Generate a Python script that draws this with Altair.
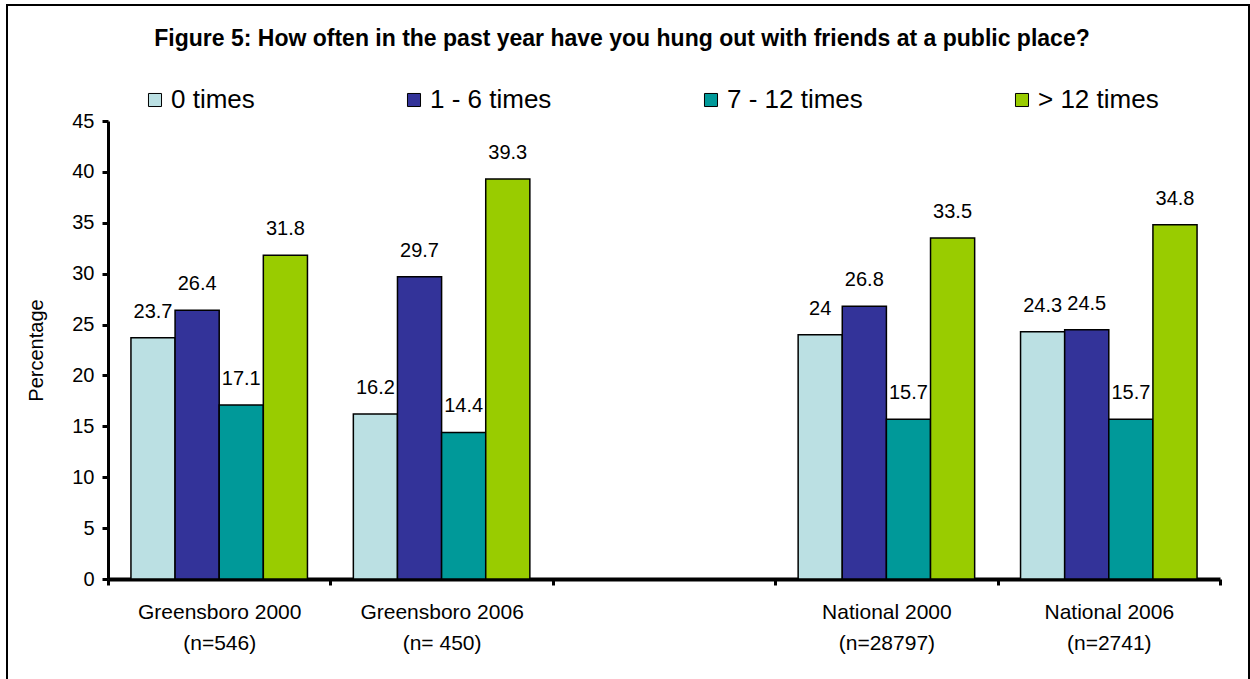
import altair as alt
import pandas as pd

# Category slots along the x axis (the blank slot separates local from national results)
groups = [
    "Greensboro 2000|(n=546)",
    "Greensboro 2006|(n= 450)",
    " ",
    "National 2000|(n=28797)",
    "National 2006|(n=2741)",
]
series = ["0 times", "1 - 6 times", "7 - 12 times", "> 12 times"]
colors = ["#BBE0E3", "#333399", "#009999", "#99CC00"]

greensboro_2000 = [23.7, 26.4, 17.1, 31.8]
greensboro_2006 = [16.2, 29.7, 14.4, 39.3]
national_2000 = [24, 26.8, 15.7, 33.5]
national_2006 = [24.3, 24.5, 15.7, 34.8]

y_ticks = [0, 5, 10, 15, 20, 25, 30, 35, 40, 45]

rows = []
for grp, vals in zip(
    [groups[0], groups[1], groups[3], groups[4]],
    [greensboro_2000, greensboro_2006, national_2000, national_2006],
):
    for s, v in zip(series, vals):
        rows.append({"group": grp, "series": s, "value": v, "label": f"{v:g}"})
df = pd.DataFrame(rows)

W, H = 1112, 458
FONT = "Liberation Sans"

x_scale = alt.Scale(domain=groups, paddingInner=0, paddingOuter=0)
x_enc = alt.X(
    "group:N",
    scale=x_scale,
    axis=alt.Axis(
        title=None,
        labelExpr="split(datum.label, '|')",
        labelAngle=0,
        labelFontSize=21,
        labelLineHeight=31,
        labelPadding=16,
        labelColor="black",
        labelFont=FONT,
        domainColor="black",
        domainWidth=4,
        tickColor="black",
        tickWidth=3,
        tickSize=6,
        tickBand="extent",
    ),
)
xoff_enc = alt.XOffset(
    "series:N", sort=series, scale=alt.Scale(domain=series, paddingOuter=0.52, paddingInner=0)
)
y_enc = alt.Y(
    "value:Q",
    scale=alt.Scale(domain=[0, 45], nice=False),
    axis=alt.Axis(
        title="Percentage",
        titleFontSize=20,
        titleFontWeight="normal",
        titleFont=FONT,
        titleColor="black",
        titlePadding=25,
        values=y_ticks,
        grid=False,
        labelFontSize=20,
        labelFont=FONT,
        labelColor="black",
        labelPadding=8,
        domainColor="black",
        domainWidth=3,
        tickColor="black",
        tickWidth=3,
        tickSize=6,
    ),
)

base = alt.Chart(df)

bars = base.mark_bar(stroke="black", strokeWidth=1.5).encode(
    x=x_enc,
    xOffset=xoff_enc,
    y=y_enc,
    color=alt.Color(
        "series:N",
        sort=series,
        scale=alt.Scale(domain=series, range=colors),
        legend=alt.Legend(
            title=None,
            orient="none",
            legendX=34,
            legendY=-34,
            direction="horizontal",
            columns=4,
            columnPadding=146,
            labelFontSize=26,
            labelFont=FONT,
            labelColor="black",
            labelOffset=3,
            symbolType="square",
            symbolSize=170,
            symbolStrokeColor="black",
            symbolStrokeWidth=1,
        ),
    ),
)

labels = base.mark_text(
    fontSize=20, font=FONT, color="black", baseline="alphabetic", dy=-20
).encode(
    x=alt.X("group:N", scale=x_scale),
    xOffset=xoff_enc,
    y=alt.Y("value:Q"),
    text="label:N",
)

# Outer border around the whole figure
frame = alt.Chart(pd.DataFrame({"k": [0]})).mark_rect(
    filled=False, stroke="black", strokeWidth=2
).encode(
    x=alt.value(-101), x2=alt.value(1141), y=alt.value(-116), y2=alt.value(562)
)

chart = (
    alt.layer(bars, labels, frame)
    .properties(
        width=W,
        height=H,
        autosize=alt.AutoSizeParams(type="none"),
        padding={"left": 108, "top": 121, "right": 30, "bottom": 100},
        title=alt.TitleParams(
            "Figure 5: How often in the past year have you hung out with friends at a public place?",
            fontSize=23,
            font=FONT,
            fontWeight="bold",
            color="black",
            anchor="middle",
            dx=-42,
            offset=-47,
        ),
        background="white",
    )
    .configure_view(stroke=None)
)

chart.save("out.html", embed_options={"renderer": "svg", "actions": False})
